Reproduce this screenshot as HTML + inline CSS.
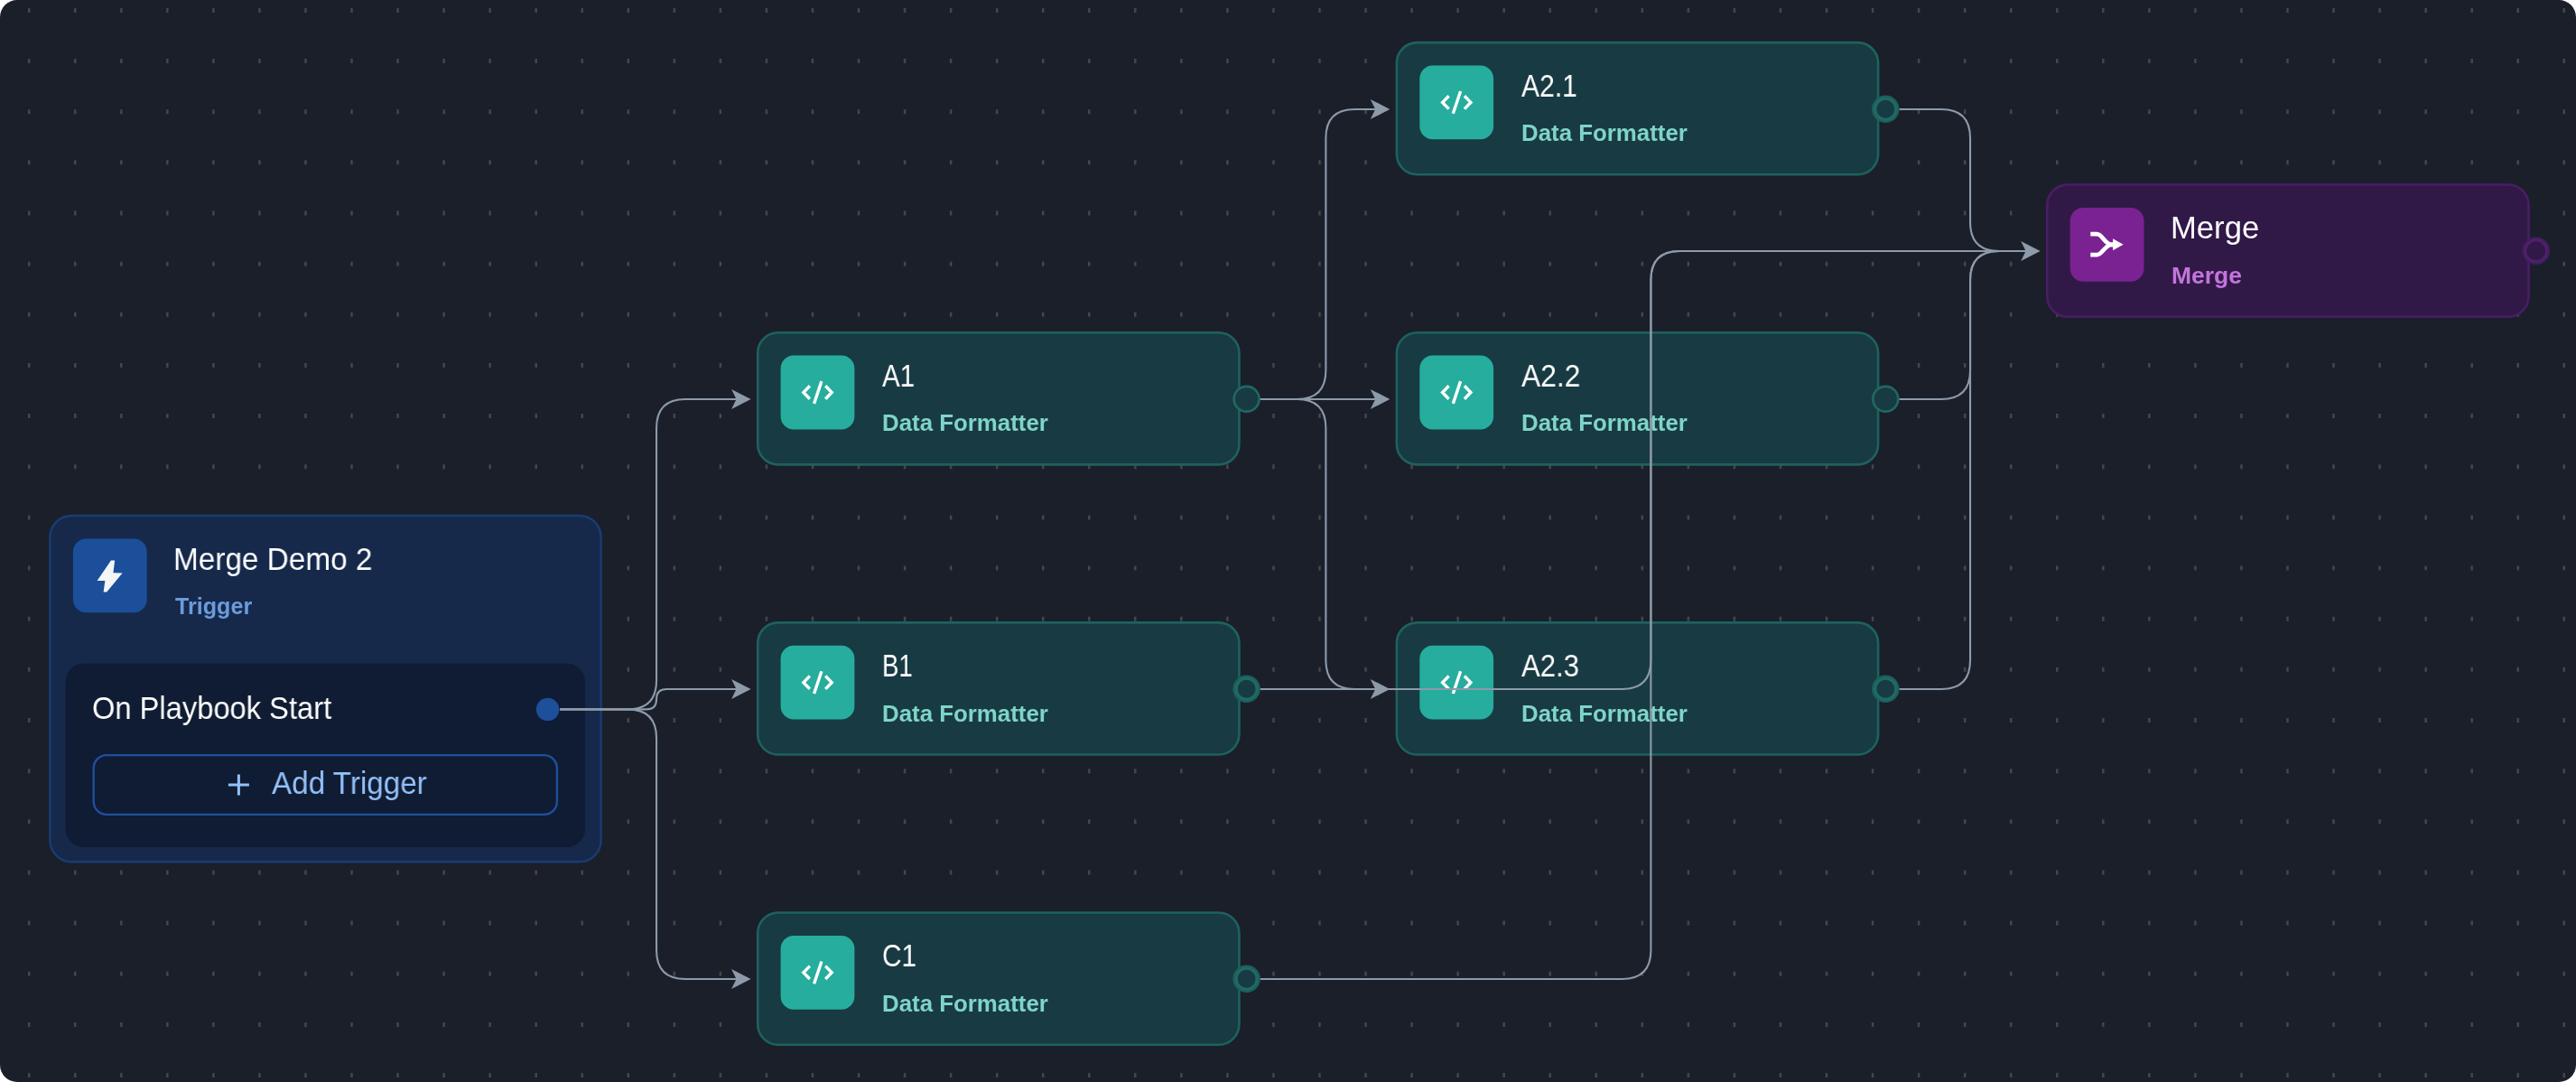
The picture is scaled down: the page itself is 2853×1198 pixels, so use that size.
<!DOCTYPE html>
<html lang="en">
<head>
<meta charset="utf-8">
<title>Merge Demo 2 - Playbook</title>
<style>
html,body{margin:0;padding:0;background:#fff;}
body{width:2853px;height:1198px;overflow:hidden;font-family:"Liberation Sans",sans-serif;}
#canvas{position:absolute;left:0;top:0;width:2853px;height:1198px;background:#1b1f2a;border-radius:19px;overflow:hidden;}
svg{position:absolute;left:0;top:0;overflow:visible;}
.t,.s,.row,.btn span{will-change:transform;-webkit-font-smoothing:antialiased;}
.node{position:absolute;width:535.8px;height:148.8px;}
.t{position:absolute;left:138.3px;top:28.9px;white-space:nowrap;color:#fff;font-size:34.5px;line-height:40px;transform-origin:0 50%;}
.s{position:absolute;left:139.4px;top:86.5px;white-space:nowrap;font-weight:700;font-size:25px;line-height:30px;transform-origin:0 50%;}
.df .s{color:#7fd4c9;}
.df .t{left:139.3px;}
.mg .s{color:#c374db;}
.tg .s{color:#6b9bda;top:86.6px;}
.tg{position:absolute;left:54.2px;top:569.8px;width:612.6px;height:385.7px;}
.row{position:absolute;left:47.8px;top:194.6px;white-space:nowrap;color:#fff;font-size:34.5px;line-height:40px;transform-origin:0 50%;}
.btn{position:absolute;left:48.3px;top:265.1px;width:515.6px;height:68.2px;color:#92c1fa;}
.btn span{position:absolute;left:198.4px;top:12.3px;white-space:nowrap;font-size:34.5px;line-height:40px;transform-origin:0 50%;}
</style>
</head>
<body>
<div id="canvas">
<svg width="2853" height="1198" viewBox="0 0 2853 1198" aria-hidden="true">
<g stroke="#464646" stroke-width="5" stroke-dasharray="2.5 48.547" fill="none">
<path d="M30.95 11.40H2853"/>
<path d="M30.95 67.55H2853"/>
<path d="M30.95 123.70H2853"/>
<path d="M30.95 179.85H2853"/>
<path d="M30.95 236.00H2853"/>
<path d="M30.95 292.15H2853"/>
<path d="M30.95 348.30H2853"/>
<path d="M30.95 404.45H2853"/>
<path d="M30.95 460.60H2853"/>
<path d="M30.95 516.75H2853"/>
<path d="M30.95 572.90H2853"/>
<path d="M30.95 629.05H2853"/>
<path d="M30.95 685.20H2853"/>
<path d="M30.95 741.35H2853"/>
<path d="M30.95 797.50H2853"/>
<path d="M30.95 853.65H2853"/>
<path d="M30.95 909.80H2853"/>
<path d="M30.95 965.95H2853"/>
<path d="M30.95 1022.10H2853"/>
<path d="M30.95 1078.25H2853"/>
<path d="M30.95 1134.40H2853"/>
<path d="M30.95 1190.55H2853"/>
</g>
<rect x="55.40" y="571.00" width="610.20" height="383.30" rx="23.80" fill="#16294b" stroke="#1a3c72" stroke-width="2.4"/>
<rect x="80.90" y="596.50" width="81.80" height="81.80" rx="14.50" fill="#1c4f99"/>
<polygon transform="translate(80.90 596.50)" fill="#f4f5f7" points="42.06,24.1 46.2,24.1 44.56,37.67 54.7,37.9 37.3,58.96 33.7,58.96 35.47,46.4 26.7,46.4"/>
<rect x="72.50" y="734.50" width="575.60" height="203.60" rx="20.50" fill="#101c33"/>
<rect x="103.70" y="836.10" width="513.20" height="65.80" rx="14.30" fill="#101c33" stroke="#1e4f9d" stroke-width="2.4"/>
<path d="M264.4 857.5V880.5M252.9 869H275.9" stroke="#92c1fa" stroke-width="3" fill="none"/>
<rect x="1546.90" y="47.10" width="533.20" height="146.20" rx="22.70" fill="#183a42" stroke="#1d625e" stroke-width="2.6"/>
<rect x="1572.30" y="72.50" width="81.80" height="81.80" rx="14.50" fill="#26ad9d"/>
<g transform="translate(1572.30 72.50)"><g fill="none" stroke="#fff" stroke-width="3.4"><polyline points="32.3,33.7 25.3,40.9 32.3,48.1"/><polyline points="49.6,33.7 56.6,40.9 49.6,48.1"/><path d="M45.3 28.5L37 53.3"/></g></g>
<rect x="839.20" y="368.20" width="533.20" height="146.20" rx="22.70" fill="#183a42" stroke="#1d625e" stroke-width="2.6"/>
<rect x="864.60" y="393.60" width="81.80" height="81.80" rx="14.50" fill="#26ad9d"/>
<g transform="translate(864.60 393.60)"><g fill="none" stroke="#fff" stroke-width="3.4"><polyline points="32.3,33.7 25.3,40.9 32.3,48.1"/><polyline points="49.6,33.7 56.6,40.9 49.6,48.1"/><path d="M45.3 28.5L37 53.3"/></g></g>
<rect x="1546.90" y="368.20" width="533.20" height="146.20" rx="22.70" fill="#183a42" stroke="#1d625e" stroke-width="2.6"/>
<rect x="1572.30" y="393.60" width="81.80" height="81.80" rx="14.50" fill="#26ad9d"/>
<g transform="translate(1572.30 393.60)"><g fill="none" stroke="#fff" stroke-width="3.4"><polyline points="32.3,33.7 25.3,40.9 32.3,48.1"/><polyline points="49.6,33.7 56.6,40.9 49.6,48.1"/><path d="M45.3 28.5L37 53.3"/></g></g>
<rect x="839.20" y="689.35" width="533.20" height="146.20" rx="22.70" fill="#183a42" stroke="#1d625e" stroke-width="2.6"/>
<rect x="864.60" y="714.75" width="81.80" height="81.80" rx="14.50" fill="#26ad9d"/>
<g transform="translate(864.60 714.75)"><g fill="none" stroke="#fff" stroke-width="3.4"><polyline points="32.3,33.7 25.3,40.9 32.3,48.1"/><polyline points="49.6,33.7 56.6,40.9 49.6,48.1"/><path d="M45.3 28.5L37 53.3"/></g></g>
<rect x="1546.90" y="689.35" width="533.20" height="146.20" rx="22.70" fill="#183a42" stroke="#1d625e" stroke-width="2.6"/>
<rect x="1572.30" y="714.75" width="81.80" height="81.80" rx="14.50" fill="#26ad9d"/>
<g transform="translate(1572.30 714.75)"><g fill="none" stroke="#fff" stroke-width="3.4"><polyline points="32.3,33.7 25.3,40.9 32.3,48.1"/><polyline points="49.6,33.7 56.6,40.9 49.6,48.1"/><path d="M45.3 28.5L37 53.3"/></g></g>
<rect x="839.20" y="1010.55" width="533.20" height="146.20" rx="22.70" fill="#183a42" stroke="#1d625e" stroke-width="2.6"/>
<rect x="864.60" y="1035.95" width="81.80" height="81.80" rx="14.50" fill="#26ad9d"/>
<g transform="translate(864.60 1035.95)"><g fill="none" stroke="#fff" stroke-width="3.4"><polyline points="32.3,33.7 25.3,40.9 32.3,48.1"/><polyline points="49.6,33.7 56.6,40.9 49.6,48.1"/><path d="M45.3 28.5L37 53.3"/></g></g>
<rect x="2267.30" y="204.55" width="533.20" height="146.20" rx="22.70" fill="#301946" stroke="#4a1d66" stroke-width="2.6"/>
<rect x="2292.70" y="229.95" width="81.80" height="81.80" rx="14.50" fill="#7a2292"/>
<g transform="translate(2292.70 229.95)"><g fill="none" stroke="#fff" stroke-width="4.7"><path d="M22.6 29.2H29.6C36.1 29.2 38.1 40.9 46.6 40.9H48.5"/><path d="M22.6 52.1H29.6C36.1 52.1 38.1 40.9 46.6 40.9H48.5"/></g><polygon fill="#fff" points="47.4,34.4 58.9,40.9 47.4,47.2"/></g>
</svg>
<div class="tg">
  <div class="t" style="transform:scaleX(0.966)">Merge Demo 2</div>
  <div class="s" style="transform:scaleX(1.005)">Trigger</div>
  <div class="row" style="transform:scaleX(0.947)">On Playbook Start</div>
  <div class="btn"><span style="transform:scaleX(0.963)">Add Trigger</span></div>
</div>
<div class="node df" style="left:1545.6px;top:45.80px"><div class="t" style="transform:scaleX(0.872)">A2.1</div><div class="s" style="transform:scaleX(1.034)">Data Formatter</div></div>
<div class="node df" style="left:837.9px;top:366.90px"><div class="t" style="transform:scaleX(0.857)">A1</div><div class="s" style="transform:scaleX(1.034)">Data Formatter</div></div>
<div class="node df" style="left:1545.6px;top:366.90px"><div class="t" style="transform:scaleX(0.921)">A2.2</div><div class="s" style="transform:scaleX(1.034)">Data Formatter</div></div>
<div class="node df" style="left:837.9px;top:688.05px"><div class="t" style="transform:scaleX(0.798)">B1</div><div class="s" style="transform:scaleX(1.034)">Data Formatter</div></div>
<div class="node df" style="left:1545.6px;top:688.05px"><div class="t" style="transform:scaleX(0.902)">A2.3</div><div class="s" style="transform:scaleX(1.034)">Data Formatter</div></div>
<div class="node df" style="left:837.9px;top:1009.25px"><div class="t" style="transform:scaleX(0.862)">C1</div><div class="s" style="transform:scaleX(1.034)">Data Formatter</div></div>
<div class="node mg" style="left:2266.0px;top:203.25px"><div class="t" style="transform:scaleX(1.004)">Merge</div><div class="s" style="transform:scaleX(1.059)">Merge</div></div>
<svg width="2853" height="1198" viewBox="0 0 2853 1198">
<g stroke-width="3">
<circle cx="2088.30" cy="120.75" r="15.25" fill="#1d5e5b" stroke="none"/>
<circle cx="2088.30" cy="120.75" r="11.55" fill="#183a42" stroke="#1f6a64" stroke-width="3.3"/>
<circle cx="1380.60" cy="441.75" r="13.95" fill="#183a42" stroke="#1f6862" stroke-width="2.7"/>
<circle cx="2088.30" cy="441.75" r="13.95" fill="#183a42" stroke="#1f6862" stroke-width="2.7"/>
<circle cx="1380.60" cy="762.75" r="15.25" fill="#1d5e5b" stroke="none"/>
<circle cx="1380.60" cy="762.75" r="11.55" fill="#183a42" stroke="#1f6a64" stroke-width="3.3"/>
<circle cx="2088.30" cy="762.75" r="15.25" fill="#1d5e5b" stroke="none"/>
<circle cx="2088.30" cy="762.75" r="11.55" fill="#183a42" stroke="#1f6a64" stroke-width="3.3"/>
<circle cx="1380.60" cy="1083.75" r="15.25" fill="#1d5e5b" stroke="none"/>
<circle cx="1380.60" cy="1083.75" r="11.55" fill="#183a42" stroke="#1f6a64" stroke-width="3.3"/>
<circle cx="2808.70" cy="277.75" r="15.3" fill="#3f2059" stroke="none"/>
<circle cx="2808.70" cy="277.75" r="11.9" fill="#301946" stroke="#4f1f6c"/>
<circle cx="606.6" cy="785.4" r="12.7" fill="#1d4f9a" stroke="none"/>
</g>
<g fill="none" stroke="#8c9aa9" stroke-width="2.1">
<path d="M620.0 785.4H695.05Q727.05 785.4 727.05 753.40V474.00Q727.05 442.0 759.05 442.0H817.6"/>
<path d="M620.0 785.4H715.85Q727.05 785.4 727.05 774.20V774.20Q727.05 763.0 738.25 763.0H817.6"/>
<path d="M620.0 785.4H695.05Q727.05 785.4 727.05 817.40V1052.00Q727.05 1084.0 759.05 1084.0H817.6"/>
<path d="M1395.9 442.0H1436.40Q1468.4 442.0 1468.4 410.00V153.00Q1468.4 121.0 1500.40 121.0H1525.3"/>
<path d="M1395.9 442.0H1525.3"/>
<path d="M1395.9 442.0H1436.40Q1468.4 442.0 1468.4 474.00V731.00Q1468.4 763.0 1500.40 763.0H1525.3"/>
<path d="M1395.9 763.0H1796.40Q1828.4 763.0 1828.4 731.00V310.00Q1828.4 278.0 1860.40 278.0H2245.7"/>
<path d="M1395.9 1084.0H1796.40Q1828.4 1084.0 1828.4 1052.00V310.00Q1828.4 278.0 1860.40 278.0H2245.7"/>
<path d="M2103.6 121.0H2150.05Q2182.05 121.0 2182.05 153.00V246.00Q2182.05 278.0 2214.05 278.0H2245.7"/>
<path d="M2103.6 442.0H2150.05Q2182.05 442.0 2182.05 410.00V310.00Q2182.05 278.0 2214.05 278.0H2245.7"/>
<path d="M2103.6 763.0H2150.05Q2182.05 763.0 2182.05 731.00V310.00Q2182.05 278.0 2214.05 278.0H2245.7"/>
</g>
<g fill="#8c9aa9">
<path d="M831.6 442.0L810.10 430.9L815.50 442.0L810.10 453.1Z"/>
<path d="M831.6 763.0L810.10 751.9L815.50 763.0L810.10 774.1Z"/>
<path d="M831.6 1084.0L810.10 1072.9L815.50 1084.0L810.10 1095.1Z"/>
<path d="M1539.3 121.0L1517.80 109.9L1523.20 121.0L1517.80 132.1Z"/>
<path d="M1539.3 442.0L1517.80 430.9L1523.20 442.0L1517.80 453.1Z"/>
<path d="M1539.3 763.0L1517.80 751.9L1523.20 763.0L1517.80 774.1Z"/>
<path d="M2259.7 278.0L2238.20 266.9L2243.60 278.0L2238.20 289.1Z"/>
</g>
</svg>
</div>
</body>
</html>
